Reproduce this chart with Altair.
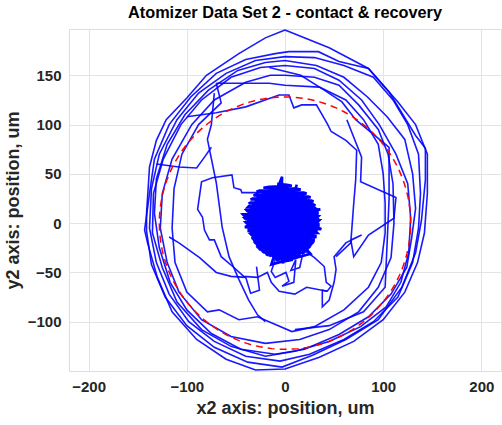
import altair as alt
import numpy as np
import pandas as pd

TITLE = "Atomizer Data Set 2 - contact & recovery"
X_TITLE = "x2 axis: position, um"
Y_TITLE = "y2 axis: position, um"
X_DOMAIN = [-220, 220]
Y_DOMAIN = [-150, 197]
X_TICKS = [-200, -100, 0, 100, 200]
Y_TICKS = [-100, -50, 0, 50, 100, 150]

# nominal contact circle (um)
CIRCLE_RADIUS = 128

# dense jitter around the rest position: scan rows (y, left x, right x)
blob_y = [40, 38, 36, 34, 32, 30, 28, 26, 24, 22, 20, 18, 16, 14, 12, 10, 8, 6, 4, 2, 0,
          -2, -4, -6, -8, -10, -12, -14, -16, -18, -20, -22, -24, -26, -28, -30, -32,
          -34, -36, -38]
blob_xl = [-8, -16, -22, -26, -29, -30, -32, -33, -35, -35, -37, -37, -38, -39, -38, -40,
           -39, -41, -40, -40, -39, -40, -38, -37, -37, -35, -34, -34, -31, -31, -28, -28,
           -25, -24, -21, -19, -15, -12, -8, -4]
blob_xr = [2, 7, 12, 16, 19, 22, 24, 26, 27, 29, 29, 31, 31, 32, 33, 33, 34, 33, 35, 34,
           34, 34, 33, 34, 32, 33, 31, 31, 29, 29, 27, 26, 24, 23, 20, 19, 15, 12, 8, 3]

# criss-cross strokes through the jitter cloud
blob_cross = [
    (-3, 36), (-6, -38), (2, 37), (-1, -40), (8, 34), (-10, -37), (13, 32), (-14, -34),
    (18, 29), (-19, -33), (22, 26), (-23, -30), (27, 22), (-27, -27), (30, 17), (-30, -22),
    (32, 12), (-33, -17), (34, 7), (-35, -12), (33, 2), (-37, -7), (35, -3), (-39, -2),
    (33, -8), (-38, 3), (31, -13), (-39, 8), (30, -18), (-37, 12), (27, -22), (-35, 16),
    (24, -26), (-33, 20), (21, -29), (-30, 24), (17, -31), (-27, 27), (13, -34), (-23, 30),
    (9, -36), (-19, 32), (5, -38), (-15, 34), (1, -39), (-11, 35), (-2, -41), (-7, 37),
    (-3, 47), (-4, -36), (-1, -37), (0, 38), (-8, -39), (5, 35), (-12, -36), (10, 33),
    (-16, -34), (15, 31), (-21, -31), (20, 28), (-25, -28), (25, 24), (-29, -25), (29, 20),
    (-32, -20), (31, 15), (-34, -15), (34, 10), (-36, -10), (35, 4), (-38, -4), (34, 0),
    (-40, 1), (34, -5), (-39, 5), (32, -10), (-38, 10), (31, -15), (-36, 14), (29, -20),
    (-34, 18), (26, -24), (-31, 22), (23, -27), (-29, 26), (19, -30), (-25, 28), (15, -33),
    (-21, 31), (11, -35), (-17, 33), (7, -37), (-13, 34), (3, -38), (-9, 36), (-1, -35),
    (-43, 9), (36, 14), (-41, -4), (37, -6), (-30, 30), (26, -31), (-14, -42), (12, 39),
]

tail = [
    (-9, -34), (-14, -49), (-10, -55), (1, -50), (4, -59), (-3, -64), (9, -60), (11, -37),
    (6, -48), (15, -45), (19, -27), (30, -35), (40, -44), (42, -60), (47, -64), (43, -69),
    (38, -68), (38, -85), (45, -78), (50, -60), (52, -47), (50, -34), (62, -20), (78, -12),
    (67, -17), (70, -34), (85, -12), (111, 5), (113, 26), (77, 42), (78, 67), (63, 105),
]

left_squiggle = [
    (-26, 31), (-44, 31), (-45, 34), (-52, 36), (-54, 49), (-74, 46), (-85, 42),
    (-89, 14), (-84, 6), (-82, -7), (-77, -17), (-72, -17), (-65, -34), (-52, -45),
    (-42, -54), (-28, -55), (-18, -50), (-14, -60), (-6, -69), (10, -72), (22, -65),
    (43, -69),
]

left_inner = [
    (-118, -14), (-108, -20), (-87, -35), (-70, -50), (-55, -54), (-40, -55), (-35, -71),
    (-26, -68), (-29, -44),
]

left_drop = [
    (-72, 132), (-75, 100), (-79, 85), (-70, 41), (-64, -4), (-57, -34), (-47, -57),
    (-37, -78), (-28, -93), (-20, -100),
]

left_hook = [
    (-131, 60), (-108, 57), (-90, 56), (-82, 67), (-75, 77),
]

top_notch = [
    (-100, 108), (-70, 112), (-40, 118), (-6, 130), (4, 130), (9, 117), (17, 120),
    (32, 120), (43, 101), (47, 93), (62, 84), (73, 74), (72, 44), (70, 20), (67, -20),
    (52, -34),
]

right_drop = [
    (-16, 158), (16, 150), (40, 135), (58, 123), (72, 105), (106, 77), (106, 24),
    (102, -65), (80, -90), (45, -104), (10, -108),
]

loop_a = [
    (0, 196), (45, 178), (85, 157), (106, 133), (133, 89), (143, 76), (143, 44), (139, 3),
    (133, -30), (119, -65), (95, -98), (62, -118), (28, -134), (-3, -146), (-38, -141),
    (-72, -126), (-100, -104), (-122, -75), (-136, -42), (-141, -8), (-141, 10),
    (-138, 57), (-131, 84), (-121, 105), (-100, 127), (-80, 150), (-47, 172), (-20, 188),
    (0, 196),
]

loop_b = [
    (-10, 172), (4, 174), (34, 174), (55, 164), (85, 157), (115, 123), (133, 100),
    (145, 70), (145, 30), (142, -10), (135, -40), (122, -70), (100, -98), (70, -120),
    (35, -136), (0, -148), (-30, -149), (-60, -138), (-90, -118), (-115, -90),
    (-130, -55), (-140, -20), (-143, -7), (-138, 30), (-133, 65), (-118, 100),
    (-96, 128), (-70, 152), (-40, 166), (-10, 172),
]

loop_c = [
    (0, 169), (30, 168), (60, 160), (90, 148), (110, 125), (125, 100), (136, 70),
    (138, 30), (136, -5), (130, -40), (115, -75), (90, -100), (60, -118), (25, -133),
    (-5, -140), (-40, -135), (-72, -120), (-98, -100), (-118, -72), (-131, -40),
    (-138, -5), (-136, 35), (-128, 70), (-110, 105), (-88, 132), (-60, 152), (-30, 165),
    (0, 169),
]

loop_d = [
    (0, 165), (32, 160), (60, 148), (84, 128), (104, 108), (122, 85), (130, 50),
    (133, 15), (129, -15), (124, -45), (108, -72), (85, -95), (55, -113), (20, -128),
    (-10, -133), (-45, -128), (-75, -112), (-100, -88), (-117, -60), (-128, -25),
    (-133, 10), (-131, 45), (-120, 80), (-102, 110), (-78, 135), (-48, 155), (-20, 163),
    (0, 165),
]

loop_e = [
    (0, 160), (30, 157), (55, 145), (78, 125), (96, 100), (113, 70), (125, 40),
    (128, 5), (126, -30), (118, -60), (103, -85), (77, -105), (45, -120), (10, -130),
    (-20, -135), (-55, -125), (-85, -108), (-110, -80), (-125, -45), (-135, -10),
    (-134, 30), (-124, 65), (-106, 100), (-85, 125), (-55, 148), (-25, 158), (0, 160),
]

loop_f = [
    (0, 150), (30, 148), (55, 140), (75, 120), (95, 95), (105, 70), (110, 40), (111, 0),
    (108, -35), (95, -65), (75, -90), (45, -108), (15, -118), (-20, -122), (-55, -115),
    (-85, -98), (-108, -70), (-120, -40), (-127, -5), (-125, 30), (-115, 65), (-95, 100),
    (-72, 125), (-40, 143), (-15, 150), (0, 150),
]

loop_g = [
    (-70, 142), (-16, 142), (0, 140), (35, 138), (62, 125), (80, 105), (95, 80),
    (100, 50), (102, 20), (102, -10), (98, -40), (85, -65), (60, -88), (30, -105),
    (7, -110), (-28, -95), (-47, -98), (-67, -88), (-79, -90), (-100, -70), (-112, -40),
    (-115, -5), (-113, 35), (-105, 70), (-88, 100), (-65, 122), (-70, 142),
]

# zig-zag scan through the cloud rows, left edge then right edge
blob_scan = []
for k, (y, xl, xr) in enumerate(zip(blob_y, blob_xl, blob_xr)):
    if k % 2 == 0:
        blob_scan += [(xl, y), (xr, y - 1)]
    else:
        blob_scan += [(xr, y), (xl, y - 1)]


def to_frame(paths):
    rows = []
    for name, pts in paths.items():
        for i, (x, y) in enumerate(pts):
            rows.append({"seg": name, "i": i, "x": x, "y": y})
    return pd.DataFrame(rows)


cloud = to_frame({"blob_scan": blob_scan, "blob_cross": blob_cross})
trace = to_frame({
    "tail": tail, "left_squiggle": left_squiggle, "left_inner": left_inner,
    "left_drop": left_drop, "left_hook": left_hook, "top_notch": top_notch,
    "right_drop": right_drop, "loop_a": loop_a, "loop_b": loop_b, "loop_c": loop_c,
    "loop_d": loop_d, "loop_e": loop_e, "loop_f": loop_f, "loop_g": loop_g,
})

ang = np.linspace(0, 2 * np.pi, 181)
circle = pd.DataFrame({
    "i": np.arange(ang.size),
    "x": CIRCLE_RADIUS * np.cos(ang),
    "y": CIRCLE_RADIUS * np.sin(ang),
})

x_scale = alt.Scale(domain=X_DOMAIN, nice=False, zero=False)
y_scale = alt.Scale(domain=Y_DOMAIN, nice=False, zero=False)

axis_style = dict(
    grid=True, ticks=False, domain=False,
    labelFont="Liberation Sans", labelFontSize=15, labelFontWeight="bold",
    labelColor="#262626", titleFont="Liberation Sans", titleFontSize=18,
    titleFontWeight="bold", titleColor="#262626", gridColor="#e3e3e3", gridWidth=1,
)
x_axis = alt.Axis(values=X_TICKS, title=X_TITLE, labelPadding=8, titlePadding=5,
                  **axis_style)
y_axis = alt.Axis(values=Y_TICKS, title=Y_TITLE, labelPadding=8, titlePadding=5,
                  **axis_style)

trace_layer = alt.Chart(trace).mark_line(
    color="#0000ff", strokeWidth=1.6, opacity=0.9, clip=True
).encode(
    x=alt.X("x:Q", scale=x_scale, axis=x_axis),
    y=alt.Y("y:Q", scale=y_scale, axis=y_axis),
    detail="seg:N",
    order="i:Q",
)

cloud_layer = alt.Chart(cloud).mark_line(
    color="#0000ff", strokeWidth=2.6, clip=True
).encode(
    x=alt.X("x:Q", scale=x_scale),
    y=alt.Y("y:Q", scale=y_scale),
    detail="seg:N",
    order="i:Q",
)

circle_layer = alt.Chart(circle).mark_line(
    color="#ff0000", strokeWidth=1.5, strokeDash=[7, 5], clip=True
).encode(
    x=alt.X("x:Q", scale=x_scale),
    y=alt.Y("y:Q", scale=y_scale),
    order="i:Q",
)

chart = alt.layer(trace_layer, cloud_layer, circle_layer).properties(
    width=432,
    height=342,
    autosize=alt.AutoSizeParams(type="none"),
    padding={"left": 69, "top": 29, "right": 1, "bottom": 54},
    title=alt.TitleParams(TITLE, fontSize=16.3, fontWeight="bold", font="Liberation Sans",
                          color="#000000", anchor="middle", offset=8),
).configure_view(
    stroke="#808080", strokeWidth=1,
).configure(background="white")

chart.save("out.html", embed_options={"renderer": "svg", "actions": False})
